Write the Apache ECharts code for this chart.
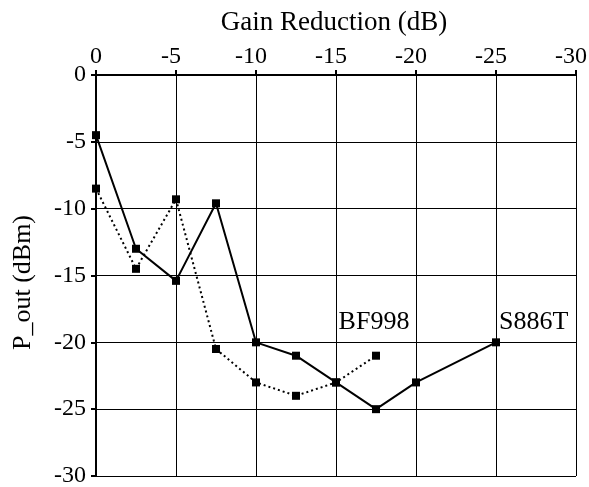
<!DOCTYPE html>
<html>
<head>
<meta charset="utf-8">
<script src="https://cdn.jsdelivr.net/npm/echarts@6/dist/echarts.min.js"></script>
<style>
html,body{margin:0;padding:0;background:#fff;}
#chart{width:589px;height:487px;}
</style>
</head>
<body>
<div id="chart"></div>
<script>
var xTicks = [0, -5, -10, -15, -20, -25, -30];
var yTicks = [0, -5, -10, -15, -20, -25, -30];
var gainS886T = [0, -2.5, -5, -7.5, -10, -12.5, -15, -17.5, -20, -25];
var poutS886T = [-4.5, -13, -15.4, -9.6, -20, -21, -23, -25, -23, -20];
var gainBF998 = [0, -2.5, -5, -7.5, -10, -12.5, -15, -17.5];
var poutBF998 = [-8.5, -14.5, -9.3, -20.5, -23, -24, -23, -21];
var seriesNames = ['S886T', 'BF998'];

var FONT = 'Liberation Serif';

function pairs(xs, ys, name) {
  return xs.map(function (x, i) {
    var d = { value: [x, ys[i]] };
    if (i === xs.length - 1) {
      d.label = { show: true, formatter: name };
    }
    return d;
  });
}

var s886 = pairs(gainS886T, poutS886T, seriesNames[0]);
s886[s886.length - 1].label.position = 'top';
s886[s886.length - 1].label.align = 'left';
s886[s886.length - 1].label.distance = 3;
s886[s886.length - 1].label.offset = [3, 0];
var bf = pairs(gainBF998, poutBF998, seriesNames[1]);
bf[bf.length - 1].label.position = 'top';
bf[bf.length - 1].label.distance = 17;
bf[bf.length - 1].label.offset = [-2, 0];

var chart = echarts.init(document.getElementById('chart'), null, { renderer: 'canvas' });
chart.setOption({
  animation: false,
  backgroundColor: '#fff',
  textStyle: { fontFamily: FONT, color: '#000' },
  grid: { left: 96, right: 13, top: 75, bottom: 11, containLabel: false, outerBoundsMode: 'none' },
  xAxis: {
    type: 'value',
    position: 'top',
    inverse: true,
    min: -30, max: 0, interval: 5,
    name: 'Gain Reduction (dB)',
    nameLocation: 'middle',
    nameGap: 39,
    nameTextStyle: { fontFamily: FONT, fontSize: 27, color: '#000', padding: [0, 4, 0, 0] },
    axisLine: { show: true, lineStyle: { color: '#000', width: 2 } },
    axisTick: { show: true, length: 5, lineStyle: { color: '#000', width: 2 } },
    axisLabel: {
      margin: 6,
      fontFamily: FONT, fontSize: 24, color: '#000',
      formatter: function (v) { return v === 0 ? '{z|0}' : '{n|' + v + '}'; },
      rich: {
        z: { fontFamily: FONT, fontSize: 24, color: '#000' },
        n: { fontFamily: FONT, fontSize: 24, color: '#000', padding: [0, 10, 0, 0] }
      },
      customValues: xTicks
    },
    splitLine: { show: true, lineStyle: { color: '#000', width: 1 } }
  },
  yAxis: {
    type: 'value',
    min: -30, max: 0, interval: 5,
    name: 'P_out (dBm)',
    nameLocation: 'middle',
    nameGap: 60,
    nameRotate: 90,
    nameTextStyle: { fontFamily: FONT, fontSize: 26, color: '#000', padding: [0, 14, 0, 0] },
    axisLine: { show: true, lineStyle: { color: '#000', width: 2 } },
    axisTick: { show: true, length: 5, lineStyle: { color: '#000', width: 2 } },
    axisLabel: { margin: 10, fontFamily: FONT, fontSize: 24, color: '#000', customValues: yTicks },
    splitLine: { show: true, lineStyle: { color: '#000', width: 1 } }
  },
  series: [
    {
      name: seriesNames[0],
      type: 'line',
      data: s886,
      symbol: 'rect',
      symbolSize: 8,
      itemStyle: { color: '#000' },
      lineStyle: { color: '#000', width: 2, type: 'solid' },
      label: { fontFamily: FONT, fontSize: 26, color: '#000' },
      z: 3
    },
    {
      name: seriesNames[1],
      type: 'line',
      data: bf,
      symbol: 'rect',
      symbolSize: 8,
      itemStyle: { color: '#000' },
      lineStyle: { color: '#000', width: 2, type: [2, 3] },
      label: { fontFamily: FONT, fontSize: 26, color: '#000' },
      z: 3
    }
  ]
});
</script>
</body>
</html>
